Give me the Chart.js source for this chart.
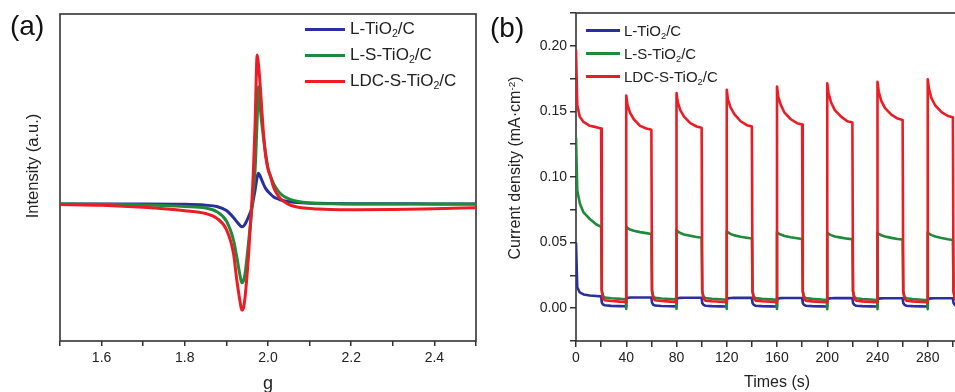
<!DOCTYPE html>
<html>
<head>
<meta charset="utf-8">
<script src="https://cdn.jsdelivr.net/npm/chart.js@4"></script>
<style>
  html, body { margin: 0; padding: 0; background: #fff; overflow: hidden; }
  #wrap { position: relative; width: 955px; height: 392px; overflow: hidden; font-family: 'Liberation Sans', Arial, sans-serif; color: #222; }
  #chartA { position: absolute; left: 0; top: 0; }
  #chartB { position: absolute; left: 480px; top: 0; }
  .tag { position: absolute; font-size: 28px; line-height: 28px; color: #111; }
  .ytitle { position: absolute; white-space: nowrap; transform: translate(-50%, -50%) rotate(-90deg); color: #222; }
  .legend { position: absolute; }
  .legend .row { display: flex; align-items: center; white-space: nowrap; }
  .legend .swatch { display: inline-block; height: 3px; }
  sub { font-size: 0.62em; vertical-align: -0.3em; line-height: 0; }
  sup { font-size: 0.62em; vertical-align: 0.55em; line-height: 0; }
</style>
</head>
<body>
<div id="wrap">
  <canvas id="chartA" width="480" height="392"></canvas>
  <canvas id="chartB" width="530" height="392"></canvas>

  <div class="tag" style="left:10px; top:12px;">(a)</div>
  <div class="tag" style="left:490px; top:14px;">(b)</div>

  <div class="ytitle" style="left:32px; top:166px; font-size:16.5px;">Intensity (a.u.)</div>
  <div class="ytitle" style="left:515px; top:168px; font-size:16px;">Current density (mA&middot;cm<sup>-2</sup>)</div>

  <div class="legend" id="legendA" style="left:305px; top:16px; font-size:17px;"></div>
  <div class="legend" id="legendB" style="left:586px; top:19px; font-size:15px;"></div>
</div>

<script>
// ---- panel (a): EPR spectra ----
const gValues = [1.5, 1.6, 1.7, 1.8, 1.85, 1.877, 1.9, 1.917, 1.925, 1.933, 1.937, 1.941, 1.945, 1.953,
  1.961, 1.965, 1.969, 1.974, 1.977, 1.981, 1.985, 1.989, 1.993, 1.997, 2.001, 2.005, 2.013, 2.021,
  2.029, 2.041, 2.053, 2.07, 2.093, 2.12, 2.15, 2.2, 2.3, 2.4, 2.5];

const eprL = [0, 0, 0, -0.003, -0.012, -0.025, -0.065, -0.135, -0.177, -0.215, -0.227, -0.222, -0.2, -0.13,
  -0.04, 0.05, 0.14, 0.27, 0.307, 0.28, 0.24, 0.2, 0.165, 0.14, 0.12, 0.103, 0.073, 0.055,
  0.043, 0.03, 0.022, 0.015, 0.01, 0.007, 0.005, 0.003, 0.002, 0.001, 0];

const eprLS = [0, -0.003, -0.01, -0.025, -0.04, -0.077, -0.17, -0.36, -0.53, -0.72, -0.787, -0.77, -0.693, -0.393,
  -0.06, 0.14, 0.34, 0.85, 1.173, 0.98, 0.807, 0.67, 0.54, 0.43, 0.34, 0.29, 0.207, 0.15,
  0.107, 0.07, 0.047, 0.027, 0.013, 0.006, 0.003, 0, 0, 0, 0];

const eprLDC = [-0.005, -0.013, -0.033, -0.067, -0.095, -0.143, -0.255, -0.493, -0.76, -0.98, -1.06, -1.04, -0.927, -0.527,
  0.007, 0.34, 0.8, 1.49, 1.4, 1.2, 0.95, 0.71, 0.53, 0.41, 0.335, 0.29, 0.173, 0.105,
  0.057, 0.018, -0.01, -0.03, -0.043, -0.05, -0.055, -0.057, -0.055, -0.047, -0.038];

// ---- panel (b): transient photocurrent, light on/off every 20 s ----
const timeS = [
  0, 1, 3, 6, 11, 16, 20, 20.5, 21.5, 23, 28, 35, 39.6, 40,
  40, 41, 43, 46, 51, 56, 60, 60.5, 61.5, 63, 68, 75, 79.6, 80,
  80, 81, 83, 86, 91, 96, 100, 100.5, 101.5, 103, 108, 115, 119.6, 120,
  120, 121, 123, 126, 131, 136, 140, 140.5, 141.5, 143, 148, 155, 159.6, 160,
  160, 161, 163, 166, 171, 176, 180, 180.5, 181.5, 183, 188, 195, 199.6, 200,
  200, 201, 203, 206, 211, 216, 220, 220.5, 221.5, 223, 228, 235, 239.6, 240,
  240, 241, 243, 246, 251, 256, 260, 260.5, 261.5, 263, 268, 275, 279.6, 280,
  280, 281, 283, 286, 291, 296, 300, 300.5, 301.5, 303, 308, 315, 319.6, 320
];

const currentL = [
  0.050, 0.016, 0.012, 0.0105, 0.0097, 0.0093, 0.0090, 0.0045, 0.0028, 0.0022, 0.0018, 0.0016, 0.0015, 0.0014,
  0.0068, 0.0078, 0.0081, 0.0082, 0.0082, 0.0082, 0.0082, 0.0042, 0.0026, 0.0020, 0.0017, 0.0015, 0.0014, 0.0013,
  0.0066, 0.0076, 0.0079, 0.0080, 0.0080, 0.0080, 0.0080, 0.0040, 0.0025, 0.0019, 0.0016, 0.0014, 0.0013, 0.0013,
  0.0065, 0.0075, 0.0078, 0.0079, 0.0079, 0.0079, 0.0079, 0.0040, 0.0025, 0.0019, 0.0016, 0.0014, 0.0013, 0.0013,
  0.0064, 0.0074, 0.0077, 0.0078, 0.0078, 0.0078, 0.0078, 0.0040, 0.0025, 0.0019, 0.0016, 0.0014, 0.0013, 0.0013,
  0.0063, 0.0073, 0.0076, 0.0077, 0.0077, 0.0077, 0.0077, 0.0040, 0.0025, 0.0019, 0.0016, 0.0014, 0.0013, 0.0013,
  0.0063, 0.0073, 0.0075, 0.0076, 0.0076, 0.0076, 0.0076, 0.0040, 0.0025, 0.0019, 0.0016, 0.0014, 0.0013, 0.0013,
  0.0063, 0.0073, 0.0075, 0.0076, 0.0076, 0.0076, 0.0076, 0.0040, 0.0025, 0.0019, 0.0016, 0.0014, 0.0013, 0.0013
];

const currentLS = [
  0.130, 0.090, 0.080, 0.073, 0.068, 0.064, 0.062, 0.0140, 0.0092, 0.0082, 0.0076, 0.0071, 0.0068, -0.0005,
  0.0622, 0.0610, 0.0600, 0.0590, 0.0580, 0.0572, 0.0566, 0.0135, 0.0090, 0.0080, 0.0074, 0.0070, 0.0067, -0.0005,
  0.0595, 0.0585, 0.0573, 0.0562, 0.0552, 0.0543, 0.0537, 0.0130, 0.0088, 0.0078, 0.0072, 0.0068, 0.0065, -0.0006,
  0.0587, 0.0577, 0.0566, 0.0555, 0.0545, 0.0537, 0.0531, 0.0130, 0.0087, 0.0077, 0.0071, 0.0067, 0.0064, -0.0006,
  0.0580, 0.0571, 0.0561, 0.0551, 0.0541, 0.0533, 0.0527, 0.0130, 0.0087, 0.0077, 0.0071, 0.0066, 0.0063, -0.0007,
  0.0576, 0.0567, 0.0557, 0.0547, 0.0538, 0.0530, 0.0525, 0.0128, 0.0086, 0.0076, 0.0070, 0.0066, 0.0063, -0.0007,
  0.0576, 0.0566, 0.0556, 0.0546, 0.0536, 0.0528, 0.0523, 0.0128, 0.0086, 0.0076, 0.0070, 0.0065, 0.0062, -0.0007,
  0.0579, 0.0568, 0.0557, 0.0546, 0.0535, 0.0526, 0.0520, 0.0128, 0.0086, 0.0076, 0.0070, 0.0065, 0.0062, 0.0062
];

const currentLDC = [
  0.197, 0.155, 0.146, 0.142, 0.139, 0.138, 0.137, 0.013, 0.0075, 0.0060, 0.0055, 0.0050, 0.0048, 0.0048,
  0.162, 0.155, 0.149, 0.144, 0.139, 0.137, 0.136, 0.013, 0.0075, 0.0060, 0.0055, 0.0050, 0.0047, 0.0047,
  0.164, 0.157, 0.151, 0.146, 0.141, 0.1385, 0.1375, 0.013, 0.0074, 0.0058, 0.0053, 0.0049, 0.0046, 0.0046,
  0.1665, 0.159, 0.153, 0.148, 0.1425, 0.1395, 0.1385, 0.013, 0.0074, 0.0058, 0.0053, 0.0049, 0.0046, 0.0046,
  0.169, 0.161, 0.155, 0.149, 0.144, 0.141, 0.140, 0.013, 0.0073, 0.0057, 0.0052, 0.0048, 0.0045, 0.0045,
  0.1715, 0.164, 0.157, 0.151, 0.146, 0.1425, 0.1415, 0.013, 0.0073, 0.0057, 0.0052, 0.0048, 0.0045, 0.0045,
  0.1725, 0.165, 0.158, 0.1525, 0.1475, 0.1445, 0.1435, 0.013, 0.0073, 0.0057, 0.0052, 0.0048, 0.0045, 0.0045,
  0.1745, 0.167, 0.160, 0.1545, 0.1495, 0.1465, 0.1455, 0.013, 0.0073, 0.0057, 0.0052, 0.0048, 0.0045, 0.0045
];

const seriesNames = ['L-TiO<sub>2</sub>/C', 'L-S-TiO<sub>2</sub>/C', 'LDC-S-TiO<sub>2</sub>/C'];
const seriesColors = ['#2b2f9e', '#1d8b3b', '#ec1c24'];

const FONT = 'Liberation Sans, Arial, sans-serif';
const AXIS = '#333';

// Draws the closed frame around the plot area
const framePlugin = {
  id: 'frame',
  beforeDatasetsDraw(chart) {
    const { ctx, chartArea: a } = chart;
    ctx.save();
    ctx.strokeStyle = AXIS;
    ctx.lineWidth = 1.6;
    ctx.strokeRect(a.left, a.top, a.right - a.left, a.bottom - a.top);
    ctx.restore();
  }
};

function toPoints(xs, ys) {
  return xs.map((x, i) => ({ x: x, y: ys[i] }));
}

function buildLegend(id, lineLen, rowH, gap) {
  const box = document.getElementById(id);
  seriesNames.forEach((name, i) => {
    const row = document.createElement('div');
    row.className = 'row';
    row.style.height = rowH + 'px';
    row.innerHTML = '<span class="swatch" style="width:' + lineLen + 'px;background:' + seriesColors[i] +
      ';margin-right:' + gap + 'px"></span><span>' + name + '</span>';
    box.appendChild(row);
  });
}

buildLegend('legendA', 40, 26, 5);
buildLegend('legendB', 34, 23, 4);

// Panel (a)
new Chart(document.getElementById('chartA'), {
  type: 'line',
  data: {
    datasets: [
      { data: toPoints(gValues, eprLDC), borderColor: seriesColors[2], borderWidth: 3, order: 1 },
      { data: toPoints(gValues, eprLS), borderColor: seriesColors[1], borderWidth: 3, order: 2 },
      { data: toPoints(gValues, eprL), borderColor: seriesColors[0], borderWidth: 3, order: 3 }
    ].map(d => Object.assign(d, { pointRadius: 0, cubicInterpolationMode: 'monotone', fill: false }))
  },
  options: {
    responsive: false,
    animation: false,
    layout: { padding: { top: 14, right: 4, left: 0, bottom: 0 } },
    plugins: { legend: { display: false }, tooltip: { enabled: false } },
    scales: {
      x: {
        type: 'linear',
        min: 1.5,
        max: 2.5,
        afterFit: function(scale) { scale.height = 51; },
        border: { display: false },
        grid: { drawOnChartArea: false, drawTicks: true, tickLength: 5, color: AXIS, lineWidth: 1.5 },
        ticks: {
          stepSize: 0.1,
          autoSkip: false,
          maxRotation: 0,
          padding: 4,
          color: '#222',
          font: { family: FONT, size: 14 },
          callback: function(value) {
            return Math.round(value * 10) % 2 === 0 ? value.toFixed(1) : '';
          }
        },
        title: { display: true, text: 'g', color: '#222', font: { family: FONT, size: 18 }, padding: { top: 0, bottom: -3 } }
      },
      y: {
        min: -1.37,
        max: 1.9,
        afterFit: function(scale) { scale.width = 60; },
        border: { display: false },
        grid: { display: false },
        ticks: { display: false }
      }
    }
  },
  plugins: [framePlugin]
});

// Panel (b)
new Chart(document.getElementById('chartB'), {
  type: 'line',
  data: {
    datasets: [
      { data: toPoints(timeS, currentLDC), borderColor: seriesColors[2], order: 1 },
      { data: toPoints(timeS, currentLS), borderColor: seriesColors[1], order: 2 },
      { data: toPoints(timeS, currentL), borderColor: seriesColors[0], order: 3 }
    ].map(d => Object.assign(d, { borderWidth: 2.6, pointRadius: 0, tension: 0, fill: false, borderJoinStyle: 'round' }))
  },
  options: {
    responsive: false,
    animation: false,
    layout: { padding: { top: 13, right: 32, left: 0, bottom: 0 } },
    plugins: { legend: { display: false }, tooltip: { enabled: false } },
    scales: {
      x: {
        type: 'linear',
        min: 0,
        max: 320,
        afterFit: function(scale) { scale.height = 51; },
        border: { display: false },
        grid: { drawOnChartArea: false, drawTicks: true, tickLength: 6, color: AXIS, lineWidth: 1.5 },
        ticks: {
          stepSize: 20,
          autoSkip: false,
          maxRotation: 0,
          padding: 3,
          color: '#222',
          font: { family: FONT, size: 14 },
          callback: function(value) {
            return value % 40 === 0 ? String(value) : '';
          }
        },
        title: { display: true, text: 'Times (s)', color: '#222', font: { family: FONT, size: 16 }, padding: { top: 0, bottom: 0 } }
      },
      y: {
        min: -0.025,
        max: 0.225,
        afterFit: function(scale) { scale.width = 96; },
        border: { display: false },
        grid: { drawOnChartArea: false, drawTicks: true, tickLength: 6, color: AXIS, lineWidth: 1.5 },
        ticks: {
          stepSize: 0.025,
          autoSkip: false,
          padding: 3,
          color: '#222',
          font: { family: FONT, size: 14 },
          callback: function(value) {
            return Math.round(value * 1000) % 50 === 0 ? value.toFixed(2) : '';
          }
        }
      }
    }
  },
  plugins: [framePlugin]
});
</script>
</body>
</html>
